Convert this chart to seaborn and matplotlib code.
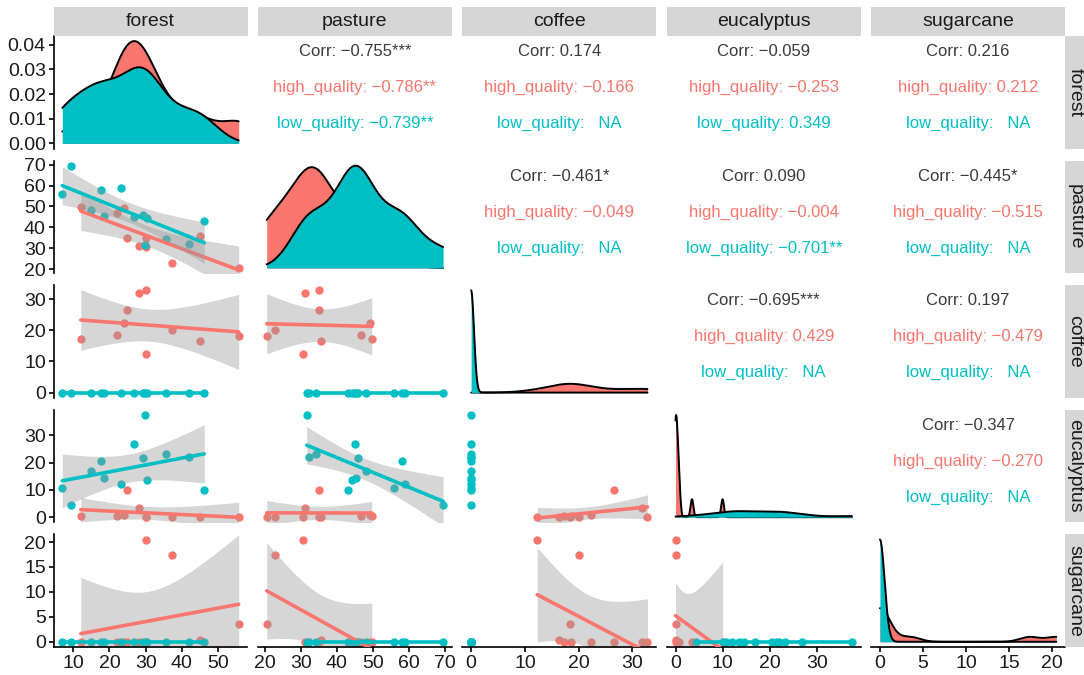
import numpy as np
import pandas as pd
import matplotlib
matplotlib.use("Agg")
import matplotlib.pyplot as plt
import seaborn as sns

try:
    from scipy import stats
except ImportError:
    stats = None

variables = ["forest", "pasture", "coffee", "eucalyptus", "sugarcane"]
groups = ["high_quality", "low_quality"]
palette = {"high_quality": "#F8766D", "low_quality": "#00BFC4"}

# 10 high quality sites, then 13 low quality sites (land cover, %)
quality = ["high_quality"] * 10 + ["low_quality"] * 13
forest = [12.1, 22.0, 23.9, 24.8, 28.1, 30.1, 30.1, 37.3, 44.9, 55.7,
          7.0, 9.5, 14.9, 17.6, 18.4, 23.3, 26.9, 29.4, 29.7, 30.3, 35.6, 42.0, 46.2]
pasture = [49.7, 46.7, 49.2, 34.9, 31.0, 35.0, 30.6, 22.9, 35.6, 20.5,
           56.0, 69.5, 48.1, 58.1, 45.2, 58.9, 44.9, 45.9, 31.6, 44.3, 34.3, 32.2, 43.0]
coffee = [17.2, 18.6, 22.3, 26.6, 31.8, 32.8, 12.3, 20.1, 16.4, 18.3,
          0, 0, 0, 0, 0, 0, 0, 0, 0, 0, 0, 0, 0]
eucalyptus = [0.5, 0.5, 0.8, 10.0, 3.5, 0.0, 0.0, 0.2, 0.0, 0.0,
              10.7, 4.3, 16.9, 20.6, 14.5, 12.1, 26.9, 21.6, 37.5, 13.5, 23.3, 22.0, 10.1]
sugarcane = [0, 0, 0, 0, 0, 0, 20.5, 17.4, 0.3, 3.5,
             0, 0, 0, 0, 0, 0, 0, 0, 0, 0, 0, 0, 0]

# correlation labels of the upper panels, row by row
corr_total = ["\u22120.755***", "0.174", "\u22120.059", "0.216",
              "\u22120.461*", "0.090", "\u22120.445*",
              "\u22120.695***", "0.197",
              "\u22120.347"]
corr_high = ["\u22120.786**", "\u22120.166", "\u22120.253", "0.212",
             "\u22120.049", "\u22120.004", "\u22120.515",
             "0.429", "\u22120.479",
             "\u22120.270"]
corr_low = ["\u22120.739**", "  NA", "0.349", "  NA",
            "  NA", "\u22120.701**", "  NA",
            "  NA", "  NA",
            "  NA"]

var_ticks = {"forest": [10, 20, 30, 40, 50],
             "pasture": [20, 30, 40, 50, 60, 70],
             "coffee": [0, 10, 20, 30],
             "eucalyptus": [0, 10, 20, 30],
             "sugarcane": [0, 5, 10, 15, 20]}
density_ticks = [0.00, 0.01, 0.02, 0.03, 0.04]

df = pd.DataFrame({"quality": quality, "forest": forest, "pasture": pasture,
                   "coffee": coffee, "eucalyptus": eucalyptus, "sugarcane": sugarcane})

sns.set_style("white")
plt.rcParams["font.family"] = ["Liberation Sans", "DejaVu Sans"]

W, H = 1084, 675
fig = plt.figure(figsize=(W / 100, H / 100), dpi=100)


def box(x0, y0, w, h):
    return [x0 / W, 1 - (y0 + h) / H, w / W, h / H]


def expand(v):
    lo, hi = min(v), max(v)
    r = hi - lo
    return lo - 0.05 * r, hi + 0.05 * r


def bw_nrd0(x):
    hi = np.std(x, ddof=1)
    q75, q25 = np.percentile(x, [75, 25])
    lo = min(hi, (q75 - q25) / 1.34)
    if lo == 0:
        lo = hi or abs(x[0]) or 1.0
    return 0.9 * lo * len(x) ** -0.2


def density(x, grid):
    bw = bw_nrd0(x)
    z = (grid[:, None] - x[None, :]) / bw
    return np.exp(-0.5 * z ** 2).sum(axis=1) / (len(x) * bw * np.sqrt(2 * np.pi))


def t_crit(dof):
    if stats is not None:
        return stats.t.ppf(0.975, dof)
    return {8: 2.306, 11: 2.201}.get(dof, 2.2)


col_left = [53.5 + 204.4 * k for k in range(5)]
row_top = [36 + 124.6 * k for k in range(5)]
PW, PH = 194, 112.5
tick_fs = 14
label_color = "#1a1a1a"

pair_index = {}
for a in range(5):
    for b in range(a + 1, 5):
        pair_index[(a, b)] = len(pair_index)

for i, yv in enumerate(variables):
    for j, xv in enumerate(variables):
        ax = fig.add_axes(box(col_left[j], row_top[i], PW, PH))
        ax.set_facecolor("white")

        if i == j:
            allv = df[xv].values
            grid = np.linspace(allv.min(), allv.max(), 512)
            top = 0
            for z, g in enumerate(groups):
                x = df.loc[df.quality == g, xv].values.astype(float)
                d = density(x, grid)
                top = max(top, d.max())
                ax.fill_between(grid, 0, d, color=palette[g], lw=0, zorder=2 * z + 1)
                ax.plot(grid, d, color="black", lw=1.4, zorder=2 * z + 2)
            ax.set_xlim(*expand(allv))
            ax.set_ylim(-0.05 * top, 1.05 * top)
        elif i > j:
            for z, g in enumerate(groups):
                sub = df[df.quality == g]
                x = sub[xv].values.astype(float)
                y = sub[yv].values.astype(float)
                fit = np.ptp(x) > 0
                sns.regplot(data=sub, x=xv, y=yv, ax=ax, ci=None, fit_reg=fit,
                            truncate=True, color=palette[g],
                            scatter_kws=dict(s=36, linewidths=0, alpha=1, zorder=1),
                            line_kws=dict(lw=2.6, zorder=3 + 2 * z))
                if fit:
                    n = len(x)
                    b1, b0 = np.polyfit(x, y, 1)
                    xs = np.linspace(x.min(), x.max(), 100)
                    yhat = b0 + b1 * xs
                    s = np.sqrt(np.sum((y - (b0 + b1 * x)) ** 2) / (n - 2))
                    se = s * np.sqrt(1 / n + (xs - x.mean()) ** 2 / np.sum((x - x.mean()) ** 2))
                    tq = t_crit(n - 2)
                    ax.fill_between(xs, yhat - tq * se, yhat + tq * se, color="#999999",
                                    alpha=0.4, lw=0, zorder=2 + 2 * z)
            ax.set_xlim(*expand(df[xv]))
            ax.set_ylim(*expand(df[yv]))
        else:
            k = pair_index[(i, j)]
            ax.set_xlim(0, 1)
            ax.set_ylim(0, 1)
            ax.text(0.5, 0.862, f"Corr: {corr_total[k]}", ha="center", va="center",
                    fontsize=12, color="#3a3a3a")
            ax.text(0.5, 0.542, f"high_quality: {corr_high[k]}", ha="center", va="center",
                    fontsize=12, color=palette["high_quality"])
            ax.text(0.5, 0.222, f"low_quality: {corr_low[k]}", ha="center", va="center",
                    fontsize=12, color=palette["low_quality"])

        ax.set_xlabel("")
        ax.set_ylabel("")
        for sp in ax.spines.values():
            sp.set_visible(False)

        if j == 0:
            ax.spines["left"].set_visible(True)
            ax.spines["left"].set_color("black")
            ax.spines["left"].set_linewidth(1.2)
            if i == 0:
                ax.set_yticks(density_ticks)
                ax.set_yticklabels([f"{t:.2f}" for t in density_ticks])
            else:
                ax.set_yticks(var_ticks[yv])
                ax.set_yticklabels([str(t) for t in var_ticks[yv]])
            ax.tick_params(axis="y", left=True, length=3.5, width=1.2, pad=2,
                           labelsize=tick_fs, labelcolor=label_color, color="black")
        else:
            ax.set_yticks([])

        if i == 4:
            ax.spines["bottom"].set_visible(True)
            ax.spines["bottom"].set_color("black")
            ax.spines["bottom"].set_linewidth(1.2)
            ax.set_xticks(var_ticks[xv])
            ax.set_xticklabels([str(t) for t in var_ticks[xv]])
            ax.tick_params(axis="x", bottom=True, length=3.5, width=1.2, pad=2,
                           labelsize=tick_fs, labelcolor=label_color, color="black")
        else:
            ax.set_xticks([])

# facet strips
strip_color = "#D6D6D6"
for j, v in enumerate(variables):
    sax = fig.add_axes(box(col_left[j], 7, PW, 29))
    sax.set_facecolor(strip_color)
    sax.set_xticks([])
    sax.set_yticks([])
    for sp in sax.spines.values():
        sp.set_visible(False)
    sax.text(0.5, 0.5, v, ha="center", va="center", fontsize=14, color=label_color,
             transform=sax.transAxes)

for i, v in enumerate(variables):
    sax = fig.add_axes(box(col_left[4] + PW, row_top[i], 20, PH))
    sax.set_facecolor(strip_color)
    sax.set_xticks([])
    sax.set_yticks([])
    for sp in sax.spines.values():
        sp.set_visible(False)
    sax.text(0.5, 0.5, v, ha="center", va="center", rotation=-90, fontsize=14,
             color=label_color, transform=sax.transAxes)

fig.savefig("out.png", dpi=100)
